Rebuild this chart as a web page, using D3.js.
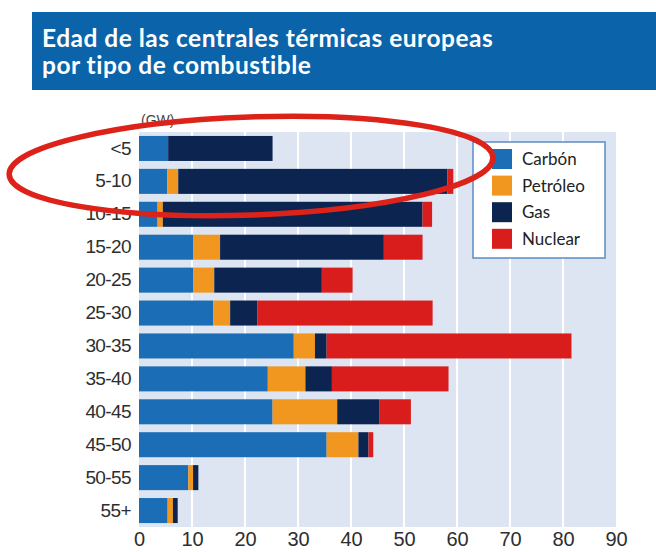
<!DOCTYPE html>
<html>
<head>
<meta charset="utf-8">
<script src="https://cdn.jsdelivr.net/npm/d3@7"></script>
<style>
  html, body { margin: 0; padding: 0; background: #fff; }
  svg { display: block; }
</style>
</head>
<body>
<div id="chart"></div>
<script>
// data (GW per age band)
const categories = ["<5", "5-10", "10-15", "15-20", "20-25", "25-30", "30-35", "35-40", "40-45", "45-50", "50-55", "55+"];
const carbon   = [5.5, 5.3, 3.5, 10.2, 10.2, 14.0, 29.2, 24.3, 25.2, 35.4, 9.3, 5.4];
const petroleo = [0, 2.1, 1.0, 5.1, 4.0, 3.2, 4.0, 7.1, 12.2, 6.0, 0.9, 1.0];
const gas      = [19.7, 50.8, 49.0, 30.9, 20.3, 5.1, 2.2, 5.0, 7.9, 1.9, 1.0, 0.9];
const nuclear  = [0, 1.1, 1.8, 7.3, 5.8, 33.1, 46.2, 22.0, 6.0, 0.9, 0, 0];
const seriesNames = ["Carbón", "Petróleo", "Gas", "Nuclear"];
const xTicks = [0, 10, 20, 30, 40, 50, 60, 70, 80, 90];

const colors = {
  "Carbón": "#1b6db6",
  "Petróleo": "#f1961f",
  "Gas": "#0c2450",
  "Nuclear": "#d91d1d"
};

const W = 656, H = 552;
const svg = d3.select('#chart').append('svg')
  .attr('width', W)
  .attr('height', H);

// title banner
svg.append('rect')
  .attr('x', 32).attr('y', 12)
  .attr('width', W - 32).attr('height', 78)
  .attr('fill', '#0b63a9');

// two lines, tight leading like the original
const titleLines = ['Edad de las centrales térmicas europeas', 'por tipo de combustible'];
svg.selectAll('text.title')
  .data(titleLines)
  .enter()
  .append('text')
  .attr('class', 'title')
  .attr('x', 42)
  .attr('y', (d, i) => 47 + i * 27)
  .attr('font-family', 'Lato, "Open Sans", sans-serif')
  .attr('font-weight', 700)
  .attr('font-size', 24.5)
  .attr('letter-spacing', 0.5)
  .attr('fill', '#fff')
  .text(d => d);

// table for the stack
const rows = categories.map((c, i) => ({
  cat: c,
  "Carbón": carbon[i],
  "Petróleo": petroleo[i],
  "Gas": gas[i],
  "Nuclear": nuclear[i]
}));
const stacked = d3.stack().keys(seriesNames)(rows);

const x = d3.scaleLinear().domain([0, 90]).range([139, 616]);
const y = d3.scaleBand().domain(categories).range([132, 527])
  .paddingInner(0.24).paddingOuter(0.12);

// plot background
svg.append('rect')
  .attr('x', x(0)).attr('y', 132)
  .attr('width', x(90) - x(0)).attr('height', 527 - 132)
  .attr('fill', '#dce5f1');

// white vertical gridlines
svg.append('g')
  .selectAll('line')
  .data(xTicks.filter(d => d > 0 && d < 90))
  .enter()
  .append('line')
  .attr('x1', d => x(d)).attr('x2', d => x(d))
  .attr('y1', 132).attr('y2', 527)
  .attr('stroke', '#fff')
  .attr('stroke-width', 2);

// stacked bars
svg.append('g')
  .selectAll('g')
  .data(stacked)
  .enter()
  .append('g')
  .attr('fill', d => colors[d.key])
  .selectAll('rect')
  .data(d => d)
  .enter()
  .append('rect')
  .attr('x', d => x(d[0]))
  .attr('y', d => y(d.data.cat))
  .attr('width', d => Math.max(0, x(d[1]) - x(d[0])))
  .attr('height', y.bandwidth());

// y axis labels
const yAxis = d3.axisLeft(y).tickSize(0).tickPadding(8);
const gy = svg.append('g')
  .attr('transform', `translate(${x(0)},0)`)
  .call(yAxis);
gy.select('.domain').remove();
gy.selectAll('text')
  .attr('font-family', '"Liberation Sans", Arial, sans-serif')
  .attr('font-size', 19)
  .attr('fill', '#2e2e2e')
  .attr('letter-spacing', -0.6);

// x axis labels
const xAxis = d3.axisBottom(x).tickValues(xTicks).tickSize(0).tickPadding(0);
const gx = svg.append('g')
  .attr('transform', 'translate(0,532)')
  .call(xAxis);
gx.select('.domain').remove();
gx.selectAll('text')
  .attr('font-family', '"Liberation Sans", Arial, sans-serif')
  .attr('font-size', 20)
  .attr('fill', '#2e2e2e')
  .attr('dy', '0.72em');

// unit label
svg.append('text')
  .attr('x', 141).attr('y', 125)
  .attr('font-family', '"Liberation Sans", Arial, sans-serif')
  .attr('font-size', 14)
  .attr('fill', '#444')
  .text('(GW)');

// legend
const legend = svg.append('g');
legend.append('rect')
  .attr('x', 473).attr('y', 142)
  .attr('width', 132).attr('height', 116)
  .attr('fill', '#fff')
  .attr('stroke', '#5b8cc4')
  .attr('stroke-width', 1.5);

const items = legend.selectAll('g.item')
  .data(seriesNames)
  .enter()
  .append('g')
  .attr('class', 'item')
  .attr('transform', (d, i) => `translate(492,${159 + i * 26.6})`);
items.append('rect')
  .attr('x', 0).attr('y', -10)
  .attr('width', 20).attr('height', 20)
  .attr('fill', d => colors[d]);
items.append('text')
  .attr('x', 30).attr('y', 0)
  .attr('dy', '0.35em')
  .attr('font-family', 'Lato, "Open Sans", sans-serif')
  .attr('font-size', 17)
  .attr('fill', '#222')
  .text(d => d);

// hand-drawn red ellipse around the two youngest bands
svg.append('ellipse')
  .attr('cx', 251).attr('cy', 166)
  .attr('rx', 242).attr('ry', 49)
  .attr('transform', 'rotate(-2,251,166)')
  .attr('fill', 'none')
  .attr('stroke', '#dc2219')
  .attr('stroke-width', 5.5);
</script>
</body>
</html>
